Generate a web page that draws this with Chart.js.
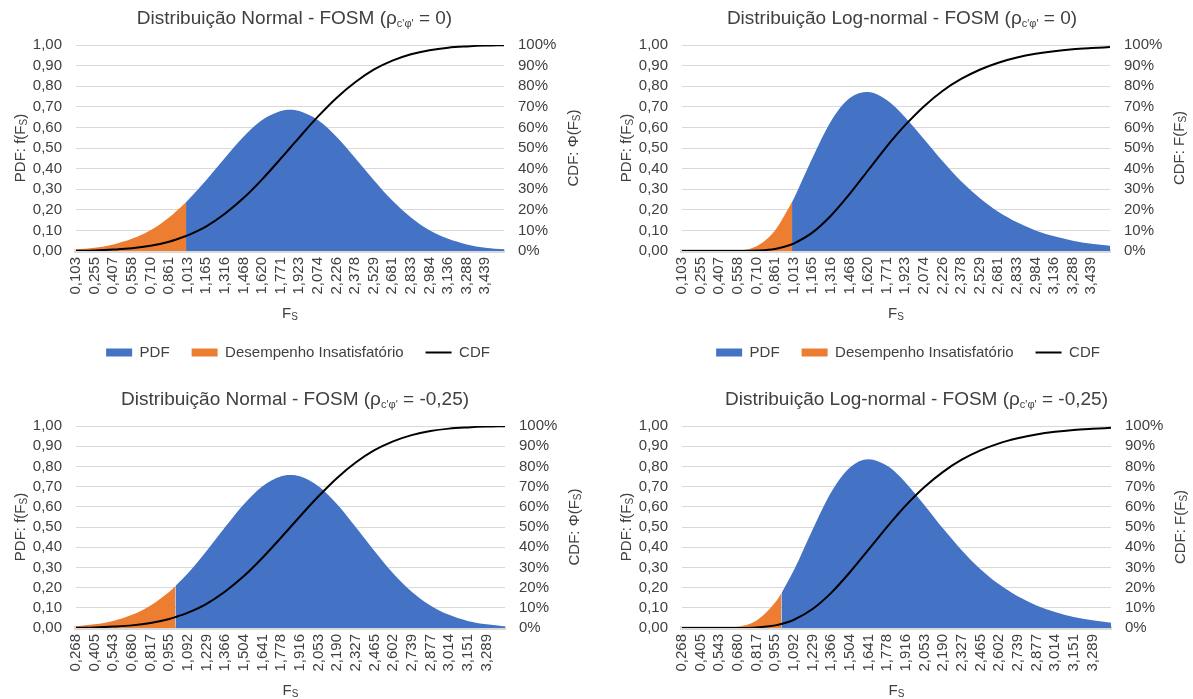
<!DOCTYPE html>
<html lang="pt">
<head>
<meta charset="utf-8">
<title>Distribuições do fator de segurança - FOSM</title>
<script src="https://cdn.jsdelivr.net/npm/chart.js@4.4.1/dist/chart.umd.min.js"></script>
<style>
  html, body { margin: 0; padding: 0; background: #ffffff; }
  body { width: 1193px; height: 699px; position: relative; overflow: hidden; }
  canvas { position: absolute; }
</style>
</head>
<body>
<canvas id="c1"></canvas>
<canvas id="c2"></canvas>
<canvas id="c3"></canvas>
<canvas id="c4"></canvas>
<script>
// Rótulos do eixo Fs (linha superior: ρc'φ' = 0; linha inferior: ρc'φ' = -0,25)
const fsLabelsTop = ['0,103','0,255','0,407','0,558','0,710','0,861','1,013','1,165','1,316','1,468','1,620','1,771',
  '1,923','2,074','2,226','2,378','2,529','2,681','2,833','2,984','3,136','3,288','3,439'];
const fsLabelsBottom = ['0,268','0,405','0,543','0,680','0,817','0,955','1,092','1,229','1,366','1,504','1,641','1,778',
  '1,916','2,053','2,190','2,327','2,465','2,602','2,739','2,877','3,014','3,151','3,289'];

// Valores de Fs em que as curvas são descritas
const fsTop = [0.103, 0.255, 0.407, 0.558, 0.710, 0.861, 1.000, 1.013, 1.165, 1.316, 1.468, 1.620, 1.771,
  1.847, 1.923, 2.074, 2.226, 2.378, 2.529, 2.681, 2.833, 2.984, 3.136, 3.288, 3.439, 3.591];
const fsBottom = [0.268, 0.405, 0.543, 0.680, 0.817, 0.955, 1.000, 1.092, 1.229, 1.366, 1.504, 1.641, 1.778,
  1.847, 1.916, 2.053, 2.190, 2.327, 2.465, 2.602, 2.739, 2.877, 3.014, 3.151, 3.289, 3.426];

// Distribuição normal, ρc'φ' = 0
const pdfNormal0 = [0.008, 0.016, 0.032, 0.059, 0.101, 0.163, 0.237, 0.245, 0.345, 0.452, 0.555, 0.636, 0.680,
  0.686, 0.680, 0.636, 0.555, 0.452, 0.345, 0.245, 0.163, 0.101, 0.059, 0.032, 0.016, 0.008];
const cdfNormal0 = [0.001, 0.003, 0.007, 0.013, 0.025, 0.045, 0.073, 0.076, 0.120, 0.181, 0.257, 0.348, 0.448,
  0.500, 0.552, 0.652, 0.743, 0.819, 0.880, 0.924, 0.955, 0.975, 0.987, 0.993, 0.997, 0.999];

// Distribuição log-normal, ρc'φ' = 0
const pdfLog0 = [0.000, 0.000, 0.000, 0.002, 0.023, 0.100, 0.238, 0.253, 0.450, 0.629, 0.741, 0.772, 0.733,
  0.695, 0.648, 0.544, 0.437, 0.339, 0.257, 0.190, 0.139, 0.100, 0.071, 0.050, 0.035, 0.025];
const cdfLog0 = [0.000, 0.000, 0.000, 0.000, 0.002, 0.010, 0.033, 0.036, 0.089, 0.171, 0.276, 0.392, 0.507,
  0.561, 0.612, 0.702, 0.777, 0.835, 0.880, 0.914, 0.939, 0.957, 0.970, 0.979, 0.985, 0.990];

// Distribuição normal, ρc'φ' = -0,25
const pdfNormal25 = [0.008, 0.018, 0.035, 0.065, 0.112, 0.180, 0.208, 0.271, 0.381, 0.500, 0.613, 0.702, 0.751,
  0.758, 0.751, 0.702, 0.613, 0.500, 0.381, 0.271, 0.180, 0.112, 0.065, 0.035, 0.018, 0.008];
const cdfNormal25 = [0.001, 0.003, 0.007, 0.013, 0.025, 0.045, 0.054, 0.076, 0.120, 0.181, 0.257, 0.348, 0.448,
  0.500, 0.552, 0.652, 0.743, 0.819, 0.880, 0.924, 0.955, 0.975, 0.987, 0.993, 0.997, 0.999];

// Distribuição log-normal, ρc'φ' = -0,25
const pdfLog25 = [0.000, 0.000, 0.000, 0.006, 0.037, 0.127, 0.172, 0.287, 0.487, 0.672, 0.795, 0.836, 0.803,
  0.766, 0.718, 0.608, 0.492, 0.385, 0.291, 0.216, 0.157, 0.112, 0.079, 0.055, 0.038, 0.026];
const cdfLog25 = [0.000, 0.000, 0.000, 0.000, 0.003, 0.013, 0.020, 0.041, 0.094, 0.174, 0.276, 0.388, 0.501,
  0.555, 0.607, 0.698, 0.773, 0.833, 0.879, 0.914, 0.939, 0.958, 0.971, 0.980, 0.986, 0.991];

// Fs abaixo deste limite: desempenho insatisfatório
const fsLimit = 1.0;

// Rótulos dos eixos verticais
const pdfTicks = ['0,00','0,10','0,20','0,30','0,40','0,50','0,60','0,70','0,80','0,90','1,00'];
const cdfTicks = ['0%','10%','20%','30%','40%','50%','60%','70%','80%','90%','100%'];

const seriesNames = ['PDF', 'Desempenho Insatisfatório', 'CDF'];

const FONT = '"Liberation Sans", Arial, Helvetica, sans-serif';
const TEXT = '#404040';
const GRID = '#d9d9d9';
const BLUE = '#4472C4';
const ORANGE = '#ED7D31';
const TICK_SIZE = 15;
const TITLE_SIZE = 19;
const TITLE_SUB = 11;
const SUB_SIZE = 10;

// Texto composto por trechos de tamanhos diferentes (índices), centrado em (cx, cy)
function drawRich(ctx, parts, cx, cy, rot) {
  ctx.save();
  ctx.translate(cx, cy);
  if (rot) ctx.rotate(rot);
  const widths = parts.map(([t, size]) => {
    ctx.font = size + 'px ' + FONT;
    return ctx.measureText(t).width;
  });
  const total = widths.reduce((s, w) => s + w, 0);
  const base = parts[0][1] * 0.36;
  let x = -total / 2;
  ctx.fillStyle = TEXT;
  ctx.textAlign = 'left';
  ctx.textBaseline = 'alphabetic';
  parts.forEach(([t, size, dy], i) => {
    ctx.font = size + 'px ' + FONT;
    ctx.fillText(t, x, base + (dy || 0));
    x += widths[i];
  });
  ctx.restore();
}

// Título do gráfico e títulos dos eixos
function panelText(p) {
  return {
    id: 'panelText',
    afterDraw(chart) {
      const { ctx, chartArea: a } = chart;
      const cx = (a.left + a.right) / 2;
      const cy = (a.top + a.bottom) / 2;
      drawRich(ctx, [[p.head, TITLE_SIZE], ["c'φ'", TITLE_SUB, 3], [p.tail, TITLE_SIZE]],
        cx + p.titleShift, a.top - 27.5, 0);
      drawRich(ctx, [['F', TICK_SIZE], ['S', SUB_SIZE, 1.5]], cx, a.bottom + 62, 0);
      drawRich(ctx, [['PDF: f(F', TICK_SIZE], ['S', SUB_SIZE, 1.5], [')', TICK_SIZE]], a.left - 56, cy, -Math.PI / 2);
      drawRich(ctx, [['CDF: ' + p.cdfSymbol + '(F', TICK_SIZE], ['S', SUB_SIZE, 1.5], [')', TICK_SIZE]],
        a.right + 69, cy, -Math.PI / 2);
    }
  };
}

const panels = [
  { id: 'c1', pos: [0, 0, 596, 370], area: [76, 45, 504, 251], legend: true, padLeft: 0, titleShift: 4.5,
    fs: fsTop, labels: fsLabelsTop, pdf: pdfNormal0, cdf: cdfNormal0,
    head: 'Distribuição Normal - FOSM (ρ', tail: ' = 0)', cdfSymbol: 'Φ' },
  { id: 'c2', pos: [597, 0, 596, 370], area: [85, 45, 513, 251], legend: true, padLeft: 26, titleShift: 6,
    fs: fsTop, labels: fsLabelsTop, pdf: pdfLog0, cdf: cdfLog0,
    head: 'Distribuição Log-normal - FOSM (ρ', tail: ' = 0)', cdfSymbol: 'F' },
  { id: 'c3', pos: [0, 372, 596, 327], area: [76, 54, 505, 256], legend: false, padLeft: 0, titleShift: 4.5,
    fs: fsBottom, labels: fsLabelsBottom, pdf: pdfNormal25, cdf: cdfNormal25,
    head: 'Distribuição Normal - FOSM (ρ', tail: ' = -0,25)', cdfSymbol: 'Φ' },
  { id: 'c4', pos: [597, 372, 596, 327], area: [85, 54, 514, 256], legend: false, padLeft: 0, titleShift: 20,
    fs: fsBottom, labels: fsLabelsBottom, pdf: pdfLog25, cdf: cdfLog25,
    head: 'Distribuição Log-normal - FOSM (ρ', tail: ' = -0,25)', cdfSymbol: 'F' }
];

const LEGEND_PAD = 22;

function makeChart(p) {
  const cv = document.getElementById(p.id);
  const [left, top, width, height] = p.pos;
  const [aL, aT, aR, aB] = p.area;
  cv.width = width;
  cv.height = height;
  cv.style.left = left + 'px';
  cv.style.top = top + 'px';

  const legendH = p.legend ? TICK_SIZE + LEGEND_PAD + 10 : 0;
  const xAxisH = height - legendH - aB;

  const pdfPts = p.fs.map((x, i) => ({ x, y: p.pdf[i] }));
  const bluePts = pdfPts.filter(pt => pt.x >= fsLimit);
  const orangePts = pdfPts.filter(pt => pt.x <= fsLimit);
  const cdfPts = p.fs.map((x, i) => ({ x, y: p.cdf[i] }));
  const tickValues = p.labels.map(s => parseFloat(s.replace(',', '.')));

  const areaStyle = color => ({
    yAxisID: 'y', fill: 'origin', backgroundColor: color, borderWidth: 0,
    pointRadius: 0, pointHoverRadius: 0, pointStyle: 'rect',
    pointBackgroundColor: color, pointBorderColor: color, pointBorderWidth: 0,
    cubicInterpolationMode: 'monotone', order: 1
  });

  const tickFont = { family: FONT, size: TICK_SIZE };

  return new Chart(cv, {
    type: 'line',
    data: {
      datasets: [
        Object.assign({ label: seriesNames[0], data: bluePts }, areaStyle(BLUE)),
        Object.assign({ label: seriesNames[1], data: orangePts }, areaStyle(ORANGE)),
        { label: seriesNames[2], data: cdfPts, yAxisID: 'y2', fill: false,
          borderColor: '#000000', borderWidth: 2, pointRadius: 0, pointHoverRadius: 0,
          pointStyle: 'line', pointBorderColor: '#000000', pointBackgroundColor: '#000000',
          pointBorderWidth: 2, cubicInterpolationMode: 'monotone', order: 0 }
      ]
    },
    options: {
      responsive: false,
      animation: false,
      devicePixelRatio: 1,
      events: [],
      layout: { padding: { top: aT, left: p.padLeft, right: 0, bottom: 0 } },
      plugins: {
        title: { display: false },
        tooltip: { enabled: false },
        legend: {
          display: p.legend,
          position: 'bottom',
          labels: {
            usePointStyle: true,
            pointStyleWidth: 26,
            boxHeight: 8,
            padding: LEGEND_PAD,
            color: TEXT,
            font: tickFont,
            sort: (a, b) => a.datasetIndex - b.datasetIndex
          }
        }
      },
      scales: {
        x: {
          type: 'linear',
          min: p.fs[0],
          max: p.fs[p.fs.length - 1],
          afterBuildTicks: s => { s.ticks = tickValues.map(v => ({ value: v })); },
          afterFit: s => { s.height = xAxisH; },
          grid: { display: false, drawTicks: false },
          border: { display: true, color: GRID, width: 4 },
          ticks: {
            autoSkip: false, minRotation: 90, maxRotation: 90, padding: 6,
            color: TEXT, font: tickFont,
            callback: (v, i) => p.labels[i]
          }
        },
        y: {
          type: 'linear', position: 'left', min: 0, max: 1,
          afterFit: s => { s.width = aL - p.padLeft; },
          grid: { color: GRID, lineWidth: 1, drawTicks: false },
          border: { display: false },
          ticks: {
            stepSize: 0.1, autoSkip: false, padding: 14, color: TEXT, font: tickFont,
            callback: (v, i) => pdfTicks[i]
          }
        },
        y2: {
          type: 'linear', position: 'right', min: 0, max: 1,
          afterFit: s => { s.width = width - aR; },
          grid: { display: false, drawTicks: false },
          border: { display: false },
          ticks: {
            stepSize: 0.1, autoSkip: false, padding: 14, color: TEXT, font: tickFont,
            callback: (v, i) => cdfTicks[i]
          }
        }
      }
    },
    plugins: [panelText(p)]
  });
}

panels.forEach(makeChart);
</script>
</body>
</html>
